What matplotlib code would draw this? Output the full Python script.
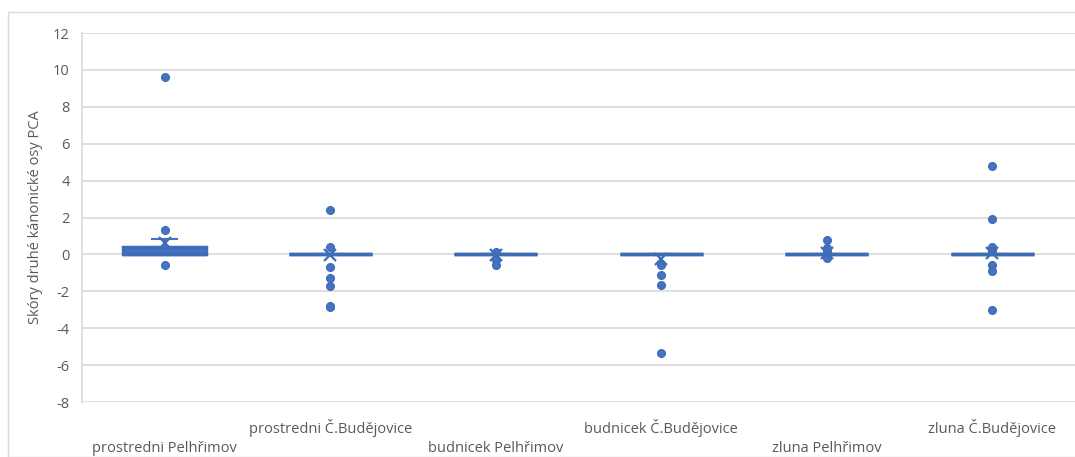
import numpy as np
import matplotlib.pyplot as plt
from matplotlib.patches import Rectangle

# categories and box statistics
categories = ["prostredni Pelhřimov", "prostredni Č.Budějovice", "budnicek Pelhřimov",
              "budnicek Č.Budějovice", "zluna Pelhřimov", "zluna Č.Budějovice"]
q1 = [0.0, 0.0, 0.0, 0.0, 0.0, 0.0]
med = [0.0, 0.0, 0.0, 0.0, 0.0, 0.0]
q3 = [0.38, 0.0, 0.0, 0.0, 0.04, 0.0]
whislo = [0.0, 0.0, 0.0, 0.0, 0.0, 0.0]
whishi = [0.85, 0.0, 0.0, 0.0, 0.04, 0.0]
means = [0.6, -0.05, -0.02, -0.25, 0.08, 0.05]
outliers = [
    [9.6, 1.3, -0.6],
    [2.4, 0.38, -0.7, -1.28, -1.73, -2.77, -2.85],
    [0.15, -0.3, -0.55],
    [-0.6, -1.12, -1.66, -5.35],
    [0.78, 0.33, 0.18, -0.2],
    [4.78, 1.9, 0.38, 0.2, -0.6, -0.92, -3.0],
]

blue = "#4472C4"
edge = "#3F6DB5"
grid_c = "#D9D9D9"
text_c = "#595959"

plt.rcParams['font.family'] = ['Open Sans', 'DejaVu Sans']
plt.rcParams['axes.unicode_minus'] = False

fig = plt.figure(figsize=(10.75, 4.57), dpi=100)
ax = fig.add_axes([82/1075, 1 - 402/457, (1075 - 82)/1075, (402 - 33)/457])

stats = []
for i in range(len(categories)):
    stats.append(dict(q1=q1[i], med=med[i], q3=q3[i], whislo=whislo[i],
                      whishi=whishi[i], mean=means[i], fliers=outliers[i]))

pos = np.arange(1, len(categories) + 1)
ax.bxp(stats, positions=pos, widths=0.5, patch_artist=True, showmeans=True,
       capwidths=0.15,
       boxprops=dict(facecolor=blue, edgecolor=edge, linewidth=2.5),
       medianprops=dict(color=edge, linewidth=2.5),
       whiskerprops=dict(color=blue, linewidth=1.5),
       capprops=dict(color=blue, linewidth=1.5),
       meanprops=dict(marker='x', markeredgecolor=edge, markersize=9, markeredgewidth=1.6),
       flierprops=dict(marker='o', markerfacecolor=blue, markeredgecolor=edge,
                       markersize=5.5, linestyle='none'))

ax.set_xlim(0.5, len(categories) + 0.5)
ax.set_ylim(-8, 12)
ax.set_yticks(np.arange(-8, 13, 2))
ax.yaxis.grid(True, color=grid_c, linewidth=1.2)
ax.set_axisbelow(True)
for s in ['top', 'right', 'bottom']:
    ax.spines[s].set_visible(False)
ax.spines['left'].set_color(grid_c)
ax.spines['left'].set_linewidth(1.2)
ax.tick_params(axis='both', length=0, labelsize=10.5, colors=text_c)
ax.tick_params(axis='y', pad=9)

ax.set_xticks(pos)
ax.set_xticklabels(categories)
for i, tick in enumerate(ax.xaxis.get_major_ticks()):
    tick.set_pad(28 if i % 2 == 0 else 12)

ax.set_ylabel("Skóry druhé kánonické osy PCA", fontsize=10.5, color=text_c, labelpad=7)

# outer chart frame
fig.add_artist(Rectangle((8/1075, 0), 1.2, 1 - 12/457, transform=fig.transFigure,
                         fill=False, edgecolor=grid_c, linewidth=1.0))

fig.savefig("out.png", dpi=100)
